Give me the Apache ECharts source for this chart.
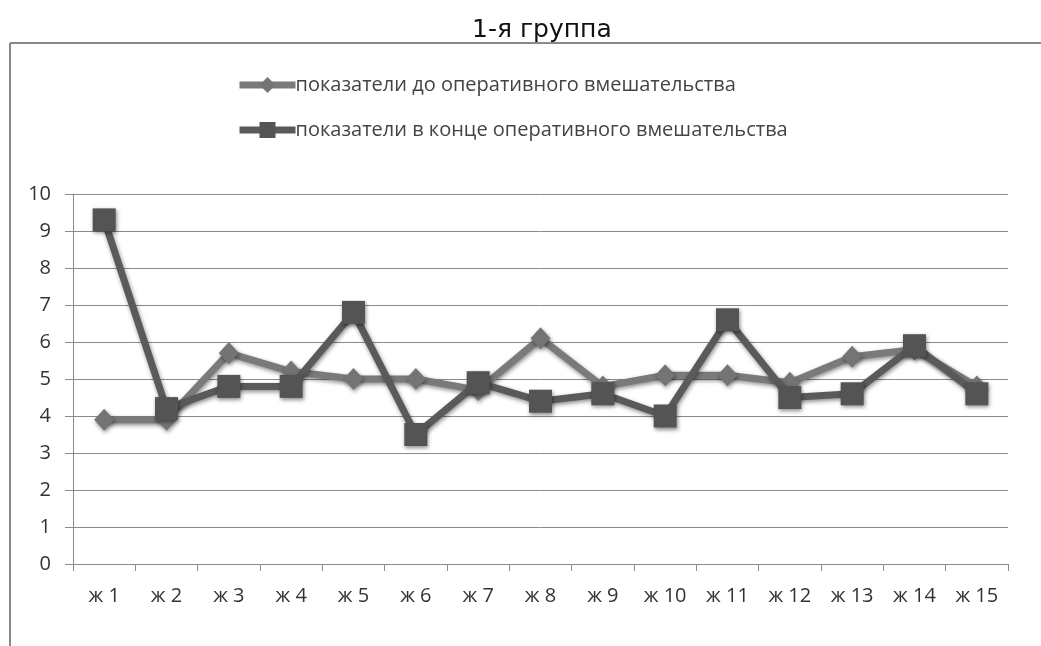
<!DOCTYPE html>
<html>
<head>
<meta charset="utf-8">
<script src="https://cdn.jsdelivr.net/npm/echarts@6/dist/echarts.min.js"></script>
<style>
html, body { margin: 0; padding: 0; background: #fff; }
#chart { width: 1041px; height: 646px; }
</style>
</head>
<body>
<div id="chart"></div>
<script>
// Patients of group 1 and their indicator values
const categories = ['ж 1','ж 2','ж 3','ж 4','ж 5','ж 6','ж 7','ж 8','ж 9','ж 10','ж 11','ж 12','ж 13','ж 14','ж 15'];
const beforeSurgery = [3.9, 3.9, 5.7, 5.2, 5.0, 5.0, 4.7, 6.1, 4.8, 5.1, 5.1, 4.9, 5.6, 5.8, 4.8];
const endOfSurgery  = [9.3, 4.2, 4.8, 4.8, 6.8, 3.5, 4.9, 4.4, 4.6, 4.0, 6.6, 4.5, 4.6, 5.9, 4.6];
const seriesNames = ['показатели до оперативного вмешательства', 'показатели в конце оперативного вмешательства'];
const yTicks = { min: 0, max: 10, interval: 1 };

const font = '"Open Sans", "Noto Sans", sans-serif';
const chart = echarts.init(document.getElementById('chart'));

const shadow = { shadowBlur: 4, shadowColor: 'rgba(0,0,0,0.45)', shadowOffsetX: 1, shadowOffsetY: 2 };

chart.setOption({
  animation: false,
  backgroundColor: '#fff',
  title: {
    text: '1-я группа',
    left: 467,
    top: 13,
    textStyle: { fontFamily: '"DejaVu Sans", sans-serif', fontSize: 25, fontWeight: 'normal', color: '#111' }
  },
  graphic: [
    { type: 'line', shape: { x1: 10, y1: 43, x2: 1041, y2: 43 }, style: { stroke: '#8a8a8a', lineWidth: 2 } },
    { type: 'line', shape: { x1: 10, y1: 43, x2: 10, y2: 646 }, style: { stroke: '#8a8a8a', lineWidth: 2 } }
  ],
  legend: {
    orient: 'vertical',
    left: 236,
    top: 75,
    padding: 0,
    itemGap: 25,
    itemWidth: 56,
    itemHeight: 20,
    textStyle: { fontFamily: font, fontSize: 20, color: '#444', padding: [0, 0, 0, -5] },
    data: [
      { name: seriesNames[0], lineStyle: { width: 7, color: '#7a7a7a' } },
      { name: seriesNames[1], lineStyle: { width: 7, color: '#5a5a5a' } }
    ]
  },
  grid: { left: 73, right: 33, top: 194, bottom: 82 },
  xAxis: {
    type: 'category',
    data: categories,
    boundaryGap: true,
    axisLine: { lineStyle: { color: '#8a8a8a', width: 1 } },
    axisTick: { show: true, length: 7, lineStyle: { color: '#8a8a8a' } },
    axisLabel: { fontFamily: font, fontSize: 20, color: '#333', margin: 22 }
  },
  yAxis: {
    type: 'value',
    min: yTicks.min,
    max: yTicks.max,
    interval: yTicks.interval,
    axisLine: { show: true, lineStyle: { color: '#8a8a8a', width: 1 } },
    axisTick: { show: true, length: 8, lineStyle: { color: '#8a8a8a' } },
    splitLine: { lineStyle: { color: '#8a8a8a', width: 1 } },
    axisLabel: { fontFamily: font, fontSize: 20, color: '#333', margin: 22 }
  },
  series: [
    {
      name: seriesNames[0],
      type: 'line',
      data: beforeSurgery,
      symbol: 'diamond',
      symbolSize: [20, 22],
      lineStyle: Object.assign({ color: '#7a7a7a', width: 7 }, shadow),
      itemStyle: Object.assign({ color: '#747474' }, shadow),
      z: 2
    },
    {
      name: seriesNames[1],
      type: 'line',
      data: endOfSurgery,
      symbol: 'rect',
      symbolSize: 23,
      lineStyle: Object.assign({ color: '#5a5a5a', width: 7 }, shadow),
      itemStyle: Object.assign({ color: '#545454' }, shadow),
      z: 3
    }
  ]
});
</script>
</body>
</html>
